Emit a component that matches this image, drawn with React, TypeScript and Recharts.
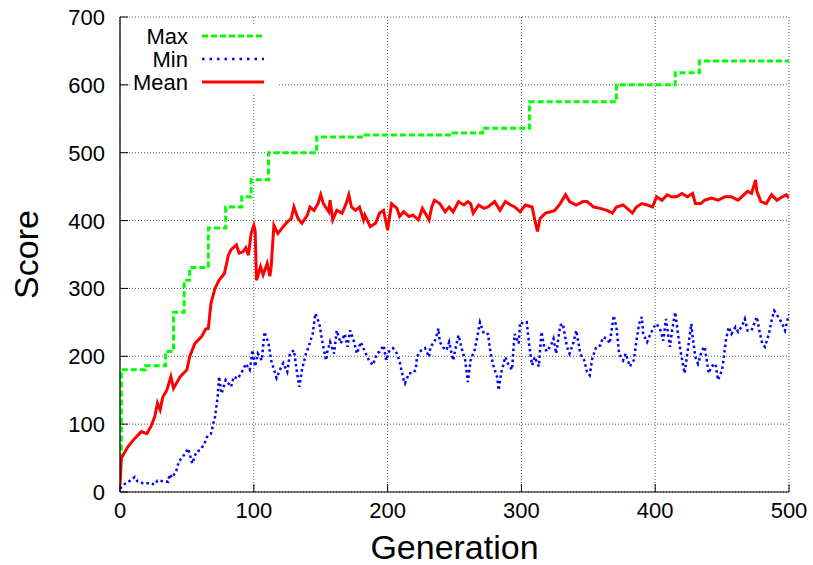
import React from 'react';
import { LineChart, Line, XAxis, YAxis, CartesianGrid, Legend } from 'recharts';

const xTicks = [0, 100, 200, 300, 400, 500];
const yTicks = [0, 100, 200, 300, 400, 500, 600, 700];

// [generation, score] change points of the Max series (step)
const maxPoints: [number, number][] = [
  [0, 50], [1, 180], [19, 186], [34, 207], [40, 265], [48, 312], [52, 331], [66, 389], [79, 420],
  [91, 435], [98, 460], [111, 500], [147, 523], [182, 526], [249, 529], [271, 536], [306, 575],
  [371, 600], [415, 618], [433, 635], [500, 635],
];

const minPoints: [number, number][] = [
  [0, 5], [3, 11], [7, 16], [11, 22], [13, 16], [17, 13], [22, 13], [26, 11], [28, 17], [32, 16], [36, 15],
  [37, 26], [39, 21], [42, 31], [44, 45], [47, 52], [51, 64], [54, 42], [57, 59], [60, 62], [63, 71],
  [65, 81], [68, 86], [71, 111], [73, 140], [74, 170], [76, 145], [79, 165], [83, 155], [85, 170],
  [88, 167], [92, 180], [94, 189], [97, 180], [99, 209], [101, 185], [103, 204], [106, 194], [108, 236],
  [111, 219], [113, 194], [117, 168], [120, 182], [122, 190], [125, 177], [127, 204], [130, 209],
  [132, 180], [134, 155], [136, 180], [139, 204], [141, 214], [144, 233], [146, 263], [149, 248],
  [151, 224], [154, 194], [155, 207], [157, 221], [160, 204], [162, 238], [165, 219], [168, 233],
  [170, 214], [172, 238], [175, 221], [177, 204], [180, 221], [183, 207], [186, 194], [189, 187],
  [192, 204], [194, 207], [197, 216], [199, 194], [201, 207], [204, 212], [207, 204], [209, 192],
  [212, 165], [213, 160], [216, 175], [219, 175], [221, 180], [222, 199], [224, 207], [228, 212],
  [231, 199], [232, 214], [235, 221], [237, 233], [238, 241], [239, 221], [242, 212], [244, 209],
  [246, 221], [249, 194], [251, 214], [253, 231], [256, 207], [258, 194], [260, 162], [262, 194],
  [265, 209], [267, 228], [269, 250], [272, 233], [275, 233], [277, 204], [279, 187], [282, 168],
  [283, 150], [285, 177], [288, 199], [290, 189], [293, 180], [294, 209], [295, 233], [298, 219],
  [299, 250], [302, 248], [304, 250], [306, 214], [308, 187], [310, 199], [313, 185], [315, 236],
  [317, 214], [319, 207], [322, 216], [324, 226], [326, 204], [329, 245], [331, 248], [334, 214],
  [336, 204], [339, 221], [341, 238], [344, 204], [347, 194], [349, 177], [351, 172], [353, 197],
  [356, 214], [359, 216], [361, 228], [364, 226], [366, 219], [369, 260], [371, 243], [373, 204],
  [376, 194], [378, 204], [381, 185], [384, 194], [386, 223], [388, 248], [390, 258], [391, 233],
  [394, 221], [396, 231], [399, 243], [401, 248], [404, 238], [406, 223], [408, 255], [411, 214],
  [413, 243], [415, 265], [417, 233], [419, 207], [421, 185], [422, 175], [424, 204], [427, 248],
  [428, 228], [430, 199], [432, 189], [435, 209], [437, 214], [440, 175], [442, 185], [445, 189],
  [447, 165], [450, 180], [451, 194], [453, 226], [455, 243], [457, 233], [460, 243], [462, 236],
  [465, 245], [467, 255], [469, 238], [472, 238], [476, 258], [478, 236], [480, 219], [482, 214],
  [485, 233], [487, 253], [489, 267], [492, 258], [495, 248], [497, 238], [500, 262],
];

const meanPoints: [number, number][] = [
  [0, 10], [1, 50], [6, 67], [11, 79], [16, 89], [20, 86], [23, 96], [26, 111], [28, 131], [30, 121],
  [32, 140], [35, 150], [38, 170], [40, 153], [45, 170], [50, 180], [52, 199], [56, 219], [61, 229],
  [64, 240], [66, 241], [68, 278], [71, 300], [74, 312], [78, 322], [81, 349], [83, 357], [87, 364],
  [89, 352], [92, 354], [94, 360], [96, 349], [98, 381], [100, 393], [101, 385], [102, 312], [105, 332],
  [107, 320], [110, 337], [112, 318], [113, 332], [115, 393], [118, 381], [122, 391], [125, 398],
  [128, 403], [130, 420], [133, 403], [136, 396], [140, 408], [142, 420], [145, 415], [148, 425],
  [150, 438], [152, 425], [156, 413], [157, 430], [159, 401], [162, 415], [166, 411], [169, 425],
  [171, 438], [173, 420], [176, 415], [179, 420], [182, 401], [183, 408], [187, 391], [191, 396],
  [194, 411], [197, 415], [200, 386], [203, 425], [207, 418], [209, 406], [212, 413], [216, 406],
  [219, 408], [223, 401], [226, 418], [228, 411], [231, 401], [233, 420], [235, 430], [239, 425],
  [243, 413], [246, 420], [249, 413], [253, 428], [257, 423], [260, 428], [262, 425], [264, 411],
  [268, 423], [272, 418], [275, 420], [280, 428], [284, 415], [288, 428], [292, 423], [295, 420],
  [299, 413], [303, 423], [308, 420], [310, 401], [312, 384], [314, 403], [318, 411], [322, 413],
  [325, 415], [329, 425], [333, 438], [336, 428], [341, 423], [346, 428], [349, 428], [354, 420],
  [359, 418], [364, 415], [368, 411], [371, 420], [376, 423], [383, 411], [386, 420], [390, 425],
  [394, 423], [398, 420], [401, 435], [405, 430], [409, 438], [412, 435], [416, 435], [420, 440],
  [424, 435], [428, 440], [430, 425], [434, 425], [437, 430], [442, 433], [447, 430], [452, 435],
  [457, 435], [462, 430], [469, 443], [472, 440], [475, 460], [476, 443], [479, 428], [483, 425],
  [487, 438], [491, 430], [495, 435], [498, 438], [500, 433],
];

const toRows = (pts: [number, number][]) => pts.map(([g, v]) => ({ g, v }));
const maxData = toRows(maxPoints);
const minData = toRows(minPoints);
const meanData = toRows(meanPoints);

const FONT = '"Liberation Sans", Arial, Helvetica, sans-serif';
const TICK_LEN = 8;

const seriesCfg = [
  { name: 'Max', color: '#00ff00', dash: '6 3', width: 3 },
  { name: 'Min', color: '#0000ff', dash: '2.5 5', width: 2.5 },
  { name: 'Mean', color: '#ff0000', dash: undefined as string | undefined, width: 3 },
];

const BottomTick = (p: any) => (
  <g>
    <line x1={p.x} y1={p.y} x2={p.x} y2={p.y - TICK_LEN} stroke="#000" strokeWidth={1} />
    <text x={p.x} y={p.y + 26} textAnchor="middle" fontSize={22} fontFamily={FONT} fill="#000">
      {p.payload.value}
    </text>
  </g>
);
const TopTick = (p: any) => (
  <line x1={p.x} y1={p.y} x2={p.x} y2={p.y + TICK_LEN} stroke="#000" strokeWidth={1} />
);
const LeftTick = (p: any) => (
  <g>
    <line x1={p.x} y1={p.y} x2={p.x + TICK_LEN} y2={p.y} stroke="#000" strokeWidth={1} />
    <text x={p.x - 15} y={p.y + 8} textAnchor="end" fontSize={22} fontFamily={FONT} fill="#000">
      {p.payload.value}
    </text>
  </g>
);
const RightTick = (p: any) => (
  <line x1={p.x} y1={p.y} x2={p.x - TICK_LEN} y2={p.y} stroke="#000" strokeWidth={1} />
);

const LegendBox = () => (
  <svg width={148} height={67} style={{ display: 'block', background: '#fff', overflow: 'visible' }}>
    {seriesCfg.map((s, i) => {
      const cy = 10 + i * 23;
      return (
        <g key={s.name}>
          <text x={58} y={cy + 8} textAnchor="end" fontSize={22} fontFamily={FONT} fill="#000">
            {s.name}
          </text>
          <line x1={72} y1={cy} x2={134} y2={cy} stroke={s.color} strokeWidth={s.width} strokeDasharray={s.dash} />
        </g>
      );
    })}
  </svg>
);

export default function App() {
  return (
    <div style={{ position: 'absolute', left: 0, top: 0, background: '#fff' }}>
      <LineChart width={813} height={565} margin={{ top: 17, right: 24, bottom: 0, left: 0 }}>
        <CartesianGrid stroke="#555" strokeDasharray="1 2" strokeWidth={1} />
        <XAxis
          dataKey="g"
          type="number"
          domain={[0, 500]}
          ticks={xTicks}
          height={73}
          tickSize={0}
          tickMargin={0}
          tickLine={false}
          axisLine={{ stroke: '#000', strokeWidth: 1.2 }}
          tick={BottomTick}
          allowDataOverflow
          label={{
            content: (lp: any) => {
              const vb = lp.viewBox || { x: 120, y: 492, width: 669 };
              return (
                <text x={vb.x + vb.width / 2} y={vb.y + 67} textAnchor="middle" fontSize={34} fontFamily={FONT} fill="#000">
                  Generation
                </text>
              );
            },
          }}
        />
        <XAxis
          xAxisId="top"
          orientation="top"
          dataKey="g"
          type="number"
          domain={[0, 500]}
          ticks={xTicks}
          height={0}
          tickSize={0}
          tickMargin={0}
          tickLine={false}
          axisLine={{ stroke: '#000', strokeWidth: 1.2 }}
          tick={TopTick}
          allowDataOverflow
        />
        <YAxis
          type="number"
          domain={[0, 700]}
          ticks={yTicks}
          width={120}
          tickSize={0}
          tickMargin={0}
          tickLine={false}
          axisLine={{ stroke: '#000', strokeWidth: 1.2 }}
          tick={LeftTick}
          allowDataOverflow
          label={{
            content: (lp: any) => {
              const vb = lp.viewBox || { x: 0, y: 17, height: 475 };
              const cx = vb.x + 38;
              const cy = vb.y + vb.height / 2;
              return (
                <text x={cx} y={cy} transform={`rotate(-90 ${cx} ${cy})`} textAnchor="middle" fontSize={34} fontFamily={FONT} fill="#000">
                  Score
                </text>
              );
            },
          }}
        />
        <YAxis
          yAxisId="right"
          orientation="right"
          type="number"
          domain={[0, 700]}
          ticks={yTicks}
          width={0}
          tickSize={0}
          tickMargin={0}
          tickLine={false}
          axisLine={{ stroke: '#000', strokeWidth: 1.2 }}
          tick={RightTick}
          allowDataOverflow
        />
        <Legend
          layout="vertical"
          align="center"
          verticalAlign="middle"
          wrapperStyle={{ left: 130, top: 26, width: 148, height: 67 }}
          content={() => <LegendBox />}
        />
        <Line
          data={maxData}
          dataKey="v"
          name="Max"
          type="stepAfter"
          stroke="#00ff00"
          strokeWidth={3}
          strokeDasharray="6 3"
          dot={false}
          isAnimationActive={false}
        />
        <Line
          data={minData}
          dataKey="v"
          name="Min"
          type="linear"
          stroke="#0000ff"
          strokeWidth={2.5}
          strokeDasharray="2.5 3"
          dot={false}
          isAnimationActive={false}
        />
        <Line
          data={meanData}
          dataKey="v"
          name="Mean"
          type="linear"
          stroke="#ff0000"
          strokeWidth={3}
          dot={false}
          isAnimationActive={false}
        />
      </LineChart>
    </div>
  );
}
